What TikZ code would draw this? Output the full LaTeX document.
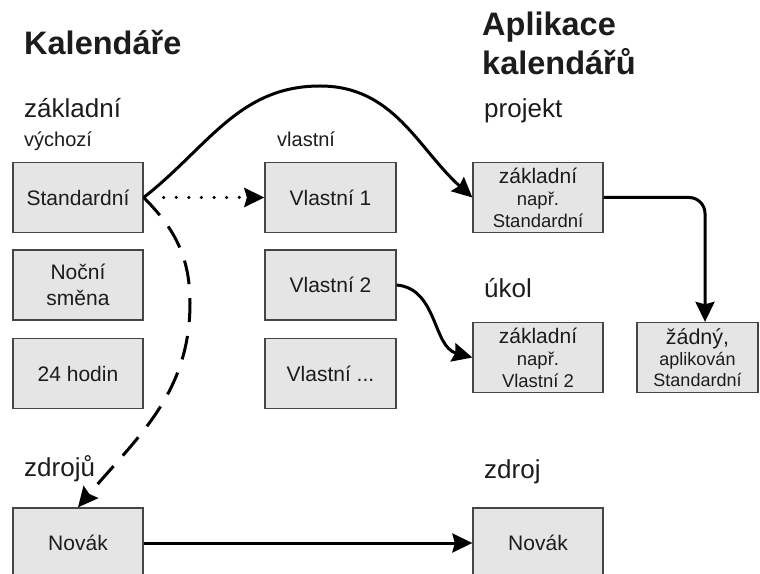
\documentclass[tikz,border=0pt]{standalone}
\usepackage{fontspec}
\setmainfont{Liberation Sans}
\usetikzlibrary{arrows.meta}
\definecolor{boxfill}{HTML}{E5E5E5}
\definecolor{boxline}{HTML}{454545}
\definecolor{ink}{HTML}{1C1C1C}
\newcommand{\fsz}[2]{\fontsize{#1}{#2}\selectfont}
\begin{document}
\begin{tikzpicture}[x=1pt,y=1pt,
  box/.style={draw=boxline, line width=1.3pt, fill=boxfill, minimum width=130pt,
    minimum height=70pt, inner sep=0pt, align=center, text=ink, font=\fsz{21}{26}},
  rbox/.style={box, font=\fsz{18.5}{22}},
  head/.style={anchor=base west, inner sep=0pt, text=ink, font=\bfseries\fsz{32.5}{38}},
  lab/.style={anchor=base west, inner sep=0pt, text=ink, font=\fsz{26}{30}},
  sublab/.style={anchor=base west, inner sep=0pt, text=ink, font=\fsz{20}{24}},
  tip/.style={-{Stealth[length=20pt,width=19pt,inset=2.5pt]}},
  conn/.style={line width=3pt, draw=black, tip},
]
\clip (0,0) rectangle (760,573);
\fill[white] (0,0) rectangle (760,573);

% headings
\node[head] (hkal) at (24,518) {Kalendáře};
\node[head] (hapl1) at (482,537) {Aplikace};
\node[head] (hapl2) at (482,498) {kalendářů};

% section labels
\node[lab] (lzakl) at (24,455) {základní};
\node[sublab] (lvych) at (24,426) {výchozí};
\node[sublab] (lvlas) at (277,426) {vlastní};
\node[lab] (lproj) at (484,455) {projekt};
\node[lab] (lukol) at (484,275) {úkol};
\node[lab] (lzdrs) at (24,96) {zdrojů};
\node[lab] (lzdr) at (484,95) {zdroj};

% calendars
\node[box] (std) at (78,375.5) {Standardní};
\node[box] (noc) at (78,288) {Noční\\směna};
\node[box] (h24) at (78,199.5) {24 hodin};
\node[box] (novL) at (78,30) {Novák};
\node[box, minimum width=131pt] (v1) at (330.5,375.5) {Vlastní 1};
\node[box, minimum width=131pt] (v2) at (330.5,288) {Vlastní 2};
\node[box, minimum width=131pt] (vx) at (330.5,199.5) {Vlastní ...};

% applied calendars
\node[rbox] (pstd) at (538,375.5) {{\fsz{21}{22}základní}\\např.\\Standardní};
\node[rbox] (ukb) at (538,215.5) {{\fsz{21}{22}základní}\\např.\\Vlastní 2};
\node[rbox, minimum width=121pt, font=\fsz{18}{21}] (zad) at (697.5,215.5) {{\fsz{21.5}{22}žádný,}\\aplikován\\Standardní};
\node[box] (novR) at (538,30) {Novák};

% connectors
\coordinate (peak) at (320,487);
\coordinate (dmid) at (190,270);
\draw[conn] (std.east) to[out=38,in=180] (peak) to[out=0,in=138] (pstd.west);
\draw[line width=3.5pt, line cap=round, dash pattern=on 0pt off 12.6pt,
  shorten <=20pt, tip] (std.east) -- (v1.west);
\draw[conn, dash pattern=on 24pt off 14pt] (std.east) to[out=-45,in=90] (dmid)
  to[out=-90,in=50] (novL.north);
\draw[conn] (v2.east) to[out=-5,in=165] (ukb.west);
\draw[conn, rounded corners=16pt] (pstd.east) -| ([xshift=7.5pt]zad.north);
\draw[conn] (novL.east) -- (novR.west);
\end{tikzpicture}
\end{document}
